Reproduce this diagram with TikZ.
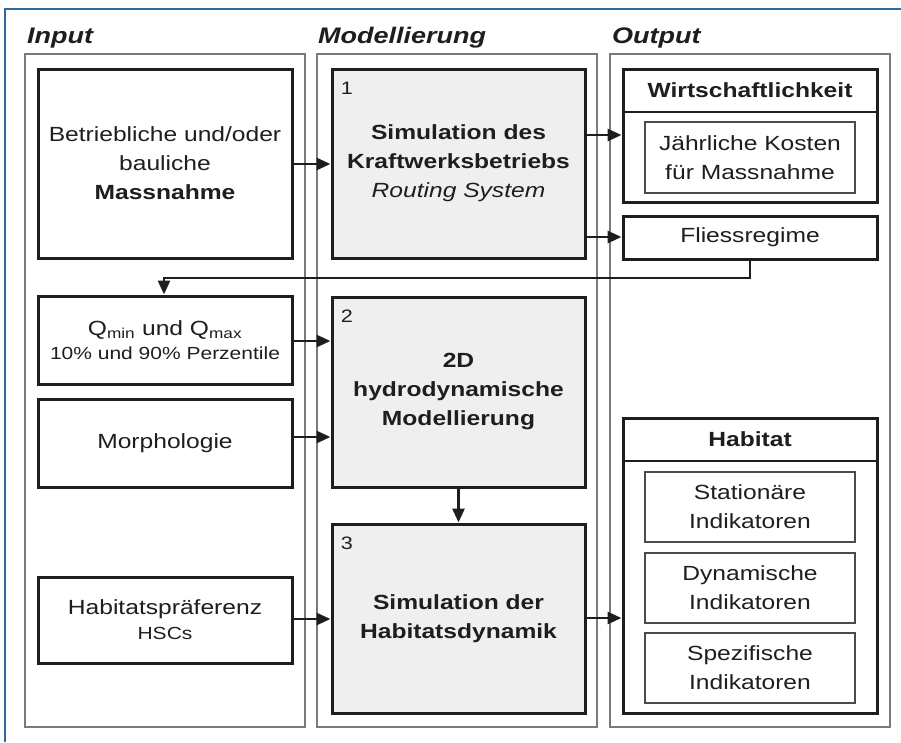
\documentclass[tikz,border=0pt]{standalone}
\usepackage{fontspec}
\setmainfont[FakeStretch=1.2]{Liberation Sans}
\usetikzlibrary{arrows.meta}
\definecolor{frameblue}{HTML}{2E6A9E}
\definecolor{panelgray}{HTML}{7A7A7A}
\definecolor{boxfill}{HTML}{EFEFEF}
\definecolor{ink}{HTML}{1E1E1E}
\definecolor{innergray}{HTML}{4A4A4A}
\newcommand\bodyfnt{\fontsize{20.5}{29}\selectfont}
\newcommand\smallfnt{\fontsize{17.5}{25}\selectfont}
\newcommand\hdfnt{\fontsize{22.5}{27}\selectfont\bfseries\itshape}
\tikzset{
  panel/.style={draw=panelgray, line width=1.8pt, fill=white, inner sep=0pt},
  box/.style={draw=ink, line width=3pt, fill=white, align=center, inner sep=0pt, text=ink, font=\bodyfnt},
  simbox/.style={box, fill=boxfill},
  innerbox/.style={draw=innergray, line width=1.8pt, fill=white, align=center, inner sep=0pt, text=ink, font=\bodyfnt},
  hdr/.style={font=\hdfnt, anchor=base west, text=ink, inner sep=0pt},
  boxtitle/.style={draw=none, fill=none, inner sep=0pt, text=ink, font=\bodyfnt\bfseries},
  numlabel/.style={font=\fontsize{18}{20}\selectfont, text=ink, inner sep=0pt},
  arr/.style={draw=ink, line width=2.8pt, -{Triangle[length=14pt,width=12pt]}},
  divider/.style={draw=ink, line width=1.8pt}
}
\begin{document}
\begin{tikzpicture}[x=1pt,y=-1pt]
\useasboundingbox (0,0) rectangle (901,742);
% outer frame (blue, top and left)
\draw[draw=frameblue, line width=1.5pt] (5,742) -- (5,9) -- (901,9);

% headers
\node[hdr] (hin) at (27,43) {Input};
\node[hdr] (hmod) at (318,43) {Modellierung};
\node[hdr] (hout) at (612,43) {Output};

% panels
\node[panel, minimum width=280, minimum height=673] (pin) at (165,390.5) {};
\node[panel, minimum width=280, minimum height=673] (pmod) at (457,390.5) {};
\node[panel, minimum width=280, minimum height=673] (pout) at (750,390.5) {};

% input boxes
\node[box, minimum width=254, minimum height=189] (betr) at (165,163.5)
  {Betriebliche und/oder\\bauliche\\\textbf{Massnahme}};
\node[box, minimum width=254, minimum height=88] (q) at (165,340)
  {Q\textsubscript{min} und Q\textsubscript{max}\\[-5pt]{\smallfnt 10\% und 90\% Perzentile}};
\node[box, minimum width=254, minimum height=88] (morph) at (165,443) {Morphologie};
\node[box, minimum width=254, minimum height=86] (habpref) at (165,620)
  {Habitatspr\"aferenz\\[-4pt]{\smallfnt HSCs}};

% model boxes
\node[simbox, minimum width=253, minimum height=189] (sim1) at (458.5,163.5)
  {\textbf{Simulation des}\\\textbf{Kraftwerksbetriebs}\\\textit{Routing System}};
\node[numlabel] (n1) at (347,88) {1};
\node[simbox, minimum width=253, minimum height=190] (sim2) at (458.5,392)
  {\textbf{2D}\\\textbf{hydrodynamische}\\\textbf{Modellierung}};
\node[numlabel] (n2) at (347,316) {2};
\node[simbox, minimum width=253, minimum height=189] (sim3) at (458.5,618.5)
  {\textbf{Simulation der}\\\textbf{Habitatsdynamik}};
\node[numlabel] (n3) at (347,543) {3};

% output boxes
\node[box, minimum width=254, minimum height=133] (wirt) at (750,135.5) {};
\node[boxtitle] (wirth) at (750,90.5) {Wirtschaftlichkeit};
\draw[divider] (wirt.west |- 0,112) -- (wirt.east |- 0,112);
\node[innerbox, minimum width=210, minimum height=71] (kosten) at (750,157.5)
  {J\"ahrliche Kosten\\f\"ur Massnahme};

\node[box, minimum width=254, minimum height=43] (fliess) at (750,237.5) {Fliessregime};

\node[box, minimum width=254, minimum height=295] (habitat) at (750,565.5) {};
\node[boxtitle] (habh) at (750,439.5) {Habitat};
\draw[divider] (habitat.west |- 0,461) -- (habitat.east |- 0,461);
\node[innerbox, minimum width=210, minimum height=70] (stat) at (750,507)
  {Station\"are\\Indikatoren};
\node[innerbox, minimum width=210, minimum height=70] (dyn) at (750,588)
  {Dynamische\\Indikatoren};
\node[innerbox, minimum width=210, minimum height=70] (spez) at (750,668)
  {Spezifische\\Indikatoren};

% connectors
\draw[arr] (betr.east |- 0,164) -- (sim1.west |- 0,164);
\draw[arr] (sim1.east |- 0,135) -- (wirt.west |- 0,135);
\draw[arr] (sim1.east |- 0,237) -- (fliess.west |- 0,237);
\coordinate (fr) at (750,278);
\coordinate (fl) at (164,278);
\draw[arr] (fliess.south) -- (fr) -- (fl) -- (q.north -| fl);
\draw[arr] (q.east |- 0,341) -- (sim2.west |- 0,341);
\draw[arr] (morph.east |- 0,437) -- (sim2.west |- 0,437);
\draw[arr] (sim2.south) -- (sim3.north);
\draw[arr] (habpref.east |- 0,619) -- (sim3.west |- 0,619);
\draw[arr] (sim3.east |- 0,618) -- (habitat.west |- 0,618);
\end{tikzpicture}
\end{document}
